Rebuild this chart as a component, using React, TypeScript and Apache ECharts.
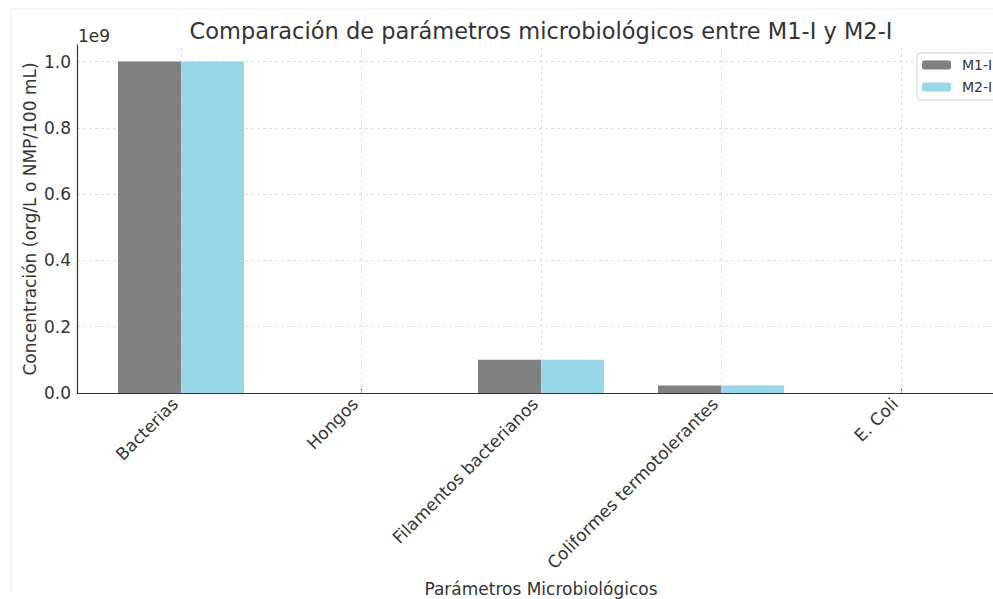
import React, { useEffect, useRef } from "react";
import * as echarts from "echarts";

const categories = ["Bacterias", "Hongos", "Filamentos bacterianos", "Coliformes termotolerantes", "E. Coli"];
const seriesNames = ["M1-I", "M2-I"];
const m1Values = [1.0e9, 5000, 1.0e8, 2.3e7, 1000];
const m2Values = [1.0e9, 5000, 1.0e8, 2.3e7, 1000];
const yTickStep = 2e8;
const yMax = 1.05e9;
const title = "Comparación de parámetros microbiológicos entre M1-I y M2-I";
const xName = "Parámetros Microbiológicos";
const yName = "Concentración (org/L o NMP/100 mL)";
const offsetText = "1e9";

const FONT = "DejaVu Sans";
const TEXT = "#333333";
const GRID_LINE = { color: "#d4d4d4", type: [3, 3] as number[], width: 0.8 };

export default function App() {
  const ref = useRef<HTMLDivElement>(null);
  useEffect(() => {
    if (!ref.current) return;
    const chart = echarts.init(ref.current, undefined, { renderer: "svg" });
    chart.setOption({
      animation: false,
      backgroundColor: "#ffffff",
      textStyle: { fontFamily: FONT },
      grid: [
        { left: 91, right: 2, top: 45, bottom: 206, outerBoundsMode: "none", containLabel: false },
        { left: 77, right: 0, top: 45, bottom: 206, outerBoundsMode: "none", containLabel: false },
      ],
      legend: {
        data: seriesNames,
        orient: "vertical",
        left: 917,
        top: 53,
        itemWidth: 29,
        itemHeight: 9,
        itemGap: 8,
        padding: [5, 30, 6, 5],
        backgroundColor: "#ffffff",
        borderColor: "#d0d0d0",
        borderWidth: 1,
        borderRadius: 3,
        textStyle: { fontFamily: FONT, fontSize: 14, color: TEXT, padding: [0, 0, 0, 6] },
      },
      xAxis: [
        {
          type: "category",
          gridIndex: 0,
          data: categories,
          axisLine: { show: false },
          axisTick: { show: true, inside: true, alignWithLabel: true, length: 4, lineStyle: { color: "#333", width: 1 } },
          axisLabel: {
            rotate: 45,
            fontSize: 17,
            color: TEXT,
            margin: 14,
            fontFamily: FONT,
            interval: 0,
            align: "right",
            verticalAlign: "bottom",
          },
          splitLine: { show: false },
          name: xName,
          nameLocation: "middle",
          nameGap: 187,
          nameMoveOverlap: false,
          nameTextStyle: { fontSize: 17, color: TEXT, fontFamily: FONT },
        },
        {
          type: "value",
          gridIndex: 1,
          min: 0,
          max: 1,
          axisLine: { show: true, lineStyle: { color: "#333", width: 1.2 } },
          axisTick: { show: false },
          axisLabel: { show: false },
          splitLine: { show: false },
        },
      ],
      yAxis: [
        {
          type: "value",
          gridIndex: 0,
          min: 0,
          max: yMax,
          show: false,
          splitLine: { show: false },
        },
        {
          type: "value",
          gridIndex: 1,
          min: 0,
          max: yMax,
          interval: yTickStep,
          axisLine: { show: true, lineStyle: { color: "#333", width: 1.2 } },
          axisTick: { show: false },
          axisLabel: {
            fontSize: 17,
            color: TEXT,
            margin: 6,
            fontFamily: FONT,
            showMaxLabel: false,
            formatter: (v: number) => (v > 1.0e9 + 1 ? "" : (v / 1e9).toFixed(1)),
          },
          splitLine: { show: true, showMaxLine: false, lineStyle: GRID_LINE },
          name: yName,
          nameLocation: "middle",
          nameGap: 39,
          nameMoveOverlap: false,
          nameTextStyle: { fontSize: 17, color: TEXT, fontFamily: FONT },
        },
      ],
      series: [
        {
          name: "vgrid",
          type: "line",
          xAxisIndex: 0,
          yAxisIndex: 0,
          data: m1Values,
          symbol: "none",
          silent: true,
          z: 1,
          lineStyle: { opacity: 0 },
          markLine: {
            silent: true,
            symbol: ["none", "none"],
            label: { show: false },
            lineStyle: GRID_LINE,
            data: categories.map((c) => ({ xAxis: c })),
          },
        },
        {
          name: seriesNames[0],
          type: "bar",
          xAxisIndex: 0,
          yAxisIndex: 0,
          data: m1Values,
          barWidth: 63,
          barGap: "0%",
          z: 2,
          itemStyle: { color: "#808080" },
        },
        {
          name: seriesNames[1],
          type: "bar",
          xAxisIndex: 0,
          yAxisIndex: 0,
          data: m2Values,
          barWidth: 63,
          barGap: "0%",
          z: 2,
          itemStyle: { color: "#98d7e8" },
        },
      ],
      graphic: [
        {
          type: "text",
          x: 541,
          y: 31,
          style: { text: title, font: `22.5px "${FONT}"`, fill: TEXT, textAlign: "center", textVerticalAlign: "middle" },
        },
        {
          type: "text",
          x: 78,
          y: 36,
          style: { text: offsetText, font: `17px "${FONT}"`, fill: TEXT, textAlign: "left", textVerticalAlign: "middle" },
        },
        { type: "line", shape: { x1: 11, y1: 9, x2: 993, y2: 9 }, style: { stroke: "#ececec", lineWidth: 1 } },
        { type: "line", shape: { x1: 11, y1: 9, x2: 11, y2: 592 }, style: { stroke: "#ececec", lineWidth: 1 } },
      ],
    });
    return () => chart.dispose();
  }, []);
  return <div ref={ref} style={{ position: "fixed", left: 0, top: 0, width: 993, height: 599 }} />;
}
